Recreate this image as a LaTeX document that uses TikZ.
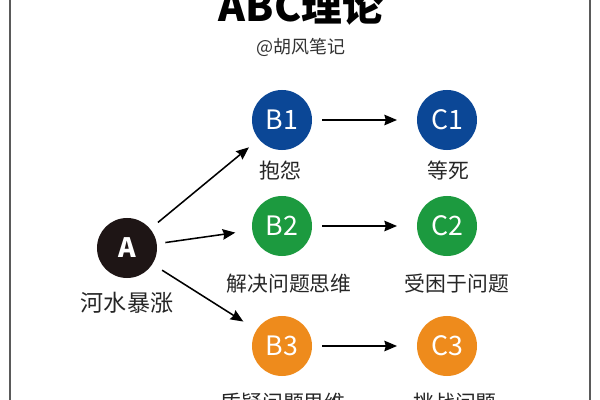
\documentclass[tikz,border=0pt]{standalone}
\usepackage{fontspec}
\setmainfont{Noto Sans CJK SC}
\usepackage{xcolor}
\usetikzlibrary{arrows.meta}

\definecolor{ablack}{HTML}{1E1515}
\definecolor{bblue}{HTML}{0B4796}
\definecolor{bgreen}{HTML}{1C9A3F}
\definecolor{borange}{HTML}{EE8B1C}
\definecolor{framegray}{HTML}{5A5A5A}

\begin{document}
\begin{tikzpicture}[x=0.025cm, y=-0.025cm,
    ball/.style={circle, minimum size=1.5cm, inner sep=0pt, text=white, font=\fontsize{19}{21}\selectfont},
    lbl/.style={text=black!85, font=\fontsize{14.8}{17}\selectfont},
    arr/.style={-{Stealth[length=9pt, width=7.5pt, inset=1pt]}, line width=1.1pt}]
      \useasboundingbox (0,0) rectangle (600,400);
      \clip (0,0) rectangle (600,400);
      % frame
      \draw[line width=1.4pt, framegray] (10,-5) -- (10,405);
      \draw[line width=1.4pt, framegray] (590,-5) -- (590,405);

      \node (title) [anchor=base, font=\fontsize{29}{30}\bfseries] at (301,22) {ABC理论};
      \node (author) [text=black!80, font=\fontsize{12.8}{14}\selectfont] at (301,47) {@胡风笔记};

      \node (a) [ball, fill=ablack, font=\fontsize{19}{21}\bfseries] at (127,248) {A};
      \node (alab) [lbl, font=\fontsize{16.4}{18}\selectfont] at (127,303) {河水暴涨};

      \node (b1) [ball, fill=bblue] at (282,120) {B1};
      \node (b1lab) [lbl] at (280,171) {抱怨};
      \node (c1) [ball, fill=bblue] at (447,120) {C1};
      \node (c1lab) [lbl] at (448,171) {等死};

      \node (b2) [ball, fill=bgreen] at (282,226) {B2};
      \node (b2lab) [lbl] at (289,284) {解决问题思维};
      \node (c2) [ball, fill=bgreen] at (447,226) {C2};
      \node (c2lab) [lbl] at (457,284) {受困于问题};

      \node (b3) [ball, fill=borange] at (282,346) {B3};
      \node (b3lab) [lbl] at (283,403) {质疑问题思维};
      \node (c3) [ball, fill=borange] at (447,346) {C3};
      \node (c3lab) [lbl] at (455,403) {挑战问题};

      \draw[arr, shorten <=7pt, shorten >=9pt] (a) -- (b1);
      \draw[arr, shorten <=6pt, shorten >=12pt] (a) -- (b2);
      \draw[arr, shorten <=8pt, shorten >=11pt] (a) -- (b3);
      \draw[arr, shorten <=7pt, shorten >=14pt] (b1) -- (c1);
      \draw[arr, shorten <=7pt, shorten >=14pt] (b2) -- (c2);
      \draw[arr, shorten <=7pt, shorten >=14pt] (b3) -- (c3);
    \end{tikzpicture}
\end{document}
